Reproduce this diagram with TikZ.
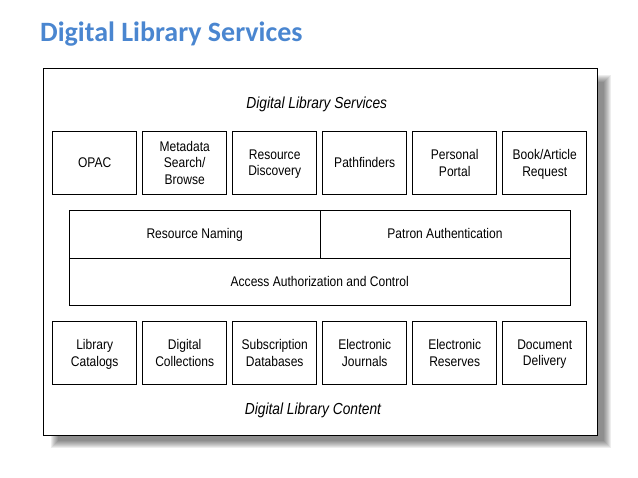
\documentclass[tikz,border=0pt]{standalone}
\usepackage{fontspec}
\setmainfont{Liberation Sans}[FakeStretch=0.86]
\newfontfamily\headfont{Carlito}
\definecolor{headblue}{HTML}{4A86D0}
\begin{document}
\begin{tikzpicture}[x=1pt,y=-1pt,
    box/.style={draw,line width=0.9pt,minimum width=84pt,minimum height=63pt,align=center,inner sep=0pt,font=\fontsize{14}{16.7}\selectfont,execute at begin node=\rule{0pt}{10pt},text depth=0pt},
    bar/.style={draw,line width=0.9pt,minimum height=48pt,inner sep=0pt,font=\fontsize{14}{16.7}\selectfont,text height=10pt,text depth=0pt},
    tiername/.style={font=\fontsize{16}{18}\selectfont\itshape,inner sep=0pt,text height=11.5pt,text depth=0pt}]
    \useasboundingbox (0,0) rectangle (638,478);
    \node[anchor=base west,inner sep=0pt,text=headblue,font=\headfont\bfseries\fontsize{28}{32}\selectfont] (head) at (40,42) {Digital Library Services};
    % soft shadow behind the frame
    \foreach \k in {1,...,8}
        \fill[black,opacity=0.07] (50+\k,74+\k) rectangle (612-\k,449-\k);
    \node[draw,fill=white,line width=0.8pt,minimum width=554pt,minimum height=366.7pt,inner sep=0pt] (frame) at (320.3,251.7) {};
    \node[tiername] (services) at (316.8,102.5) {Digital Library Services};
    % service boxes
    \node[box] (opac) at (94.7,162.7) {OPAC};
    \node[box] (meta) at (184.7,162.7) {Metadata\\Search/\\Browse};
    \node[box] (discovery) at (274.7,162.7) {Resource\\Discovery};
    \node[box] (paths) at (364.7,162.7) {Pathfinders};
    \node[box] (portal) at (454.7,162.7) {Personal\\Portal};
    \node[box] (request) at (544.7,162.7) {Book/Article\\Request};
    % middle layer
    \node[bar,minimum width=250.7pt] (naming) at (194.7,234) {Resource Naming};
    \node[bar,minimum width=250pt] (patron) at (445,234) {Patron Authentication};
    \node[bar,minimum width=500.7pt,minimum height=47pt] (access) at (319.7,281.5) {Access Authorization and Control};
    % content boxes
    \node[box] (catalogs) at (94.7,352.7) {Library\\Catalogs};
    \node[box] (collections) at (184.7,352.7) {Digital\\Collections};
    \node[box] (databases) at (274.7,352.7) {Subscription\\Databases};
    \node[box] (journals) at (364.7,352.7) {Electronic\\Journals};
    \node[box] (reserves) at (454.7,352.7) {Electronic\\Reserves};
    \node[box] (delivery) at (544.7,352.7) {Document\\Delivery};
    \node[tiername] (content) at (313,408.3) {Digital Library Content};
\end{tikzpicture}
\end{document}
